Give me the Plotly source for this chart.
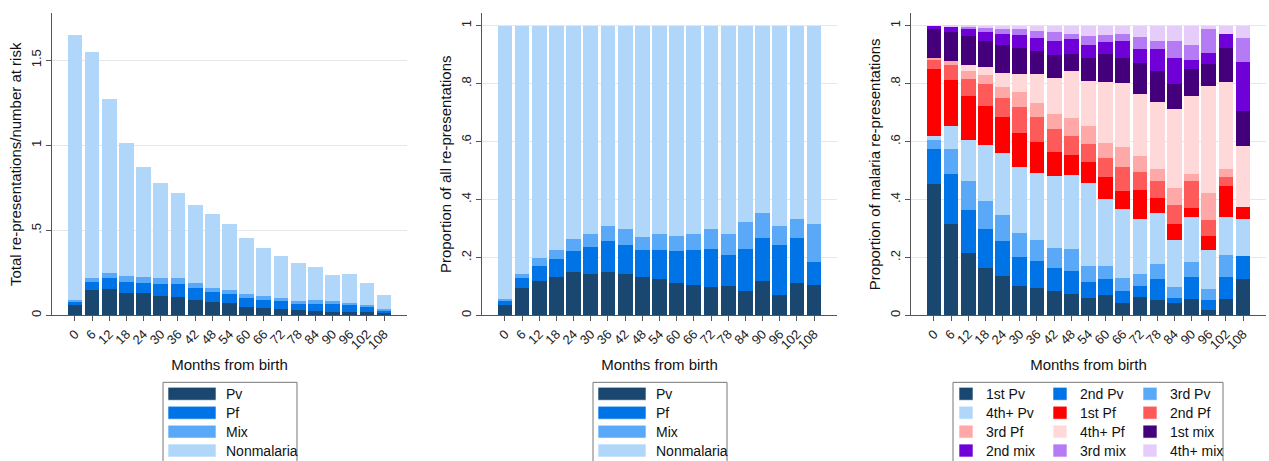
import plotly.graph_objects as go

W, H = 1269, 461

months = [0, 6, 12, 18, 24, 30, 36, 42, 48, 54, 60, 66, 72, 78, 84, 90, 96, 102, 108]
month_labels = [str(m) for m in months]

# Panel 1: total re-presentations / number at risk
p1_pv = [.058, .146, .152, .134, .129, .111, .107, .092, .076, .070, .049, .041, .035, .029, .027, .021, .018, .019, .014]
p1_pf = [.024, .051, .066, .063, .062, .072, .078, .066, .060, .053, .050, .047, .047, .035, .037, .043, .044, .032, .013]
p1_mix = [.010, .025, .032, .033, .037, .035, .035, .033, .024, .027, .024, .023, .021, .022, .028, .022, .012, .011, .012]
p1_non = [1.557, 1.324, 1.021, .784, .643, .562, .497, .458, .438, .388, .331, .285, .246, .220, .191, .154, .168, .131, .082]

# Panel 2: proportion of all re-presentations
p2_pv = [.034, .095, .120, .134, .148, .143, .151, .142, .131, .127, .110, .103, .099, .100, .084, .120, .069, .113, .104]
p2_pf = [.016, .033, .052, .061, .073, .093, .107, .102, .096, .100, .112, .124, .130, .107, .146, .148, .175, .155, .079]
p2_mix = [.005, .016, .026, .032, .044, .046, .050, .055, .043, .054, .053, .055, .070, .075, .093, .085, .063, .065, .132]
p2_non = [.945, .856, .802, .773, .735, .718, .692, .701, .730, .719, .725, .718, .701, .718, .677, .647, .693, .667, .685]

# Panel 3: proportion of malaria re-presentations
p3_pv1 = [.455, .315, .215, .163, .135, .102, .094, .084, .072, .061, .070, .042, .065, .053, .041, .058, .017, .058, .124]
p3_pv2 = [.119, .173, .149, .136, .122, .098, .093, .081, .080, .055, .056, .043, .036, .073, .019, .073, .037, .075, .082]
p3_pv3 = [.032, .088, .100, .097, .090, .084, .072, .068, .078, .054, .046, .044, .043, .050, .037, .053, .038, .074, .000]
p3_pv4 = [.013, .079, .142, .192, .212, .227, .231, .247, .255, .287, .230, .239, .187, .176, .163, .157, .134, .134, .126]
p3_pf1 = [.231, .157, .152, .134, .127, .117, .110, .085, .068, .071, .075, .062, .101, .052, .056, .030, .047, .106, .041]
p3_pf2 = [.032, .051, .059, .075, .064, .090, .085, .079, .066, .065, .065, .082, .064, .060, .065, .092, .056, .031, .000]
p3_pf3 = [.007, .016, .028, .033, .038, .054, .048, .052, .061, .060, .053, .068, .054, .042, .058, .024, .095, .028, .000]
p3_pf4 = [.000, .000, .021, .028, .050, .062, .101, .125, .162, .157, .210, .223, .214, .229, .275, .270, .368, .299, .210]
p3_mx1 = [.100, .098, .100, .089, .094, .088, .077, .078, .061, .079, .097, .085, .107, .109, .083, .092, .075, .119, .124]
p3_mx2 = [.011, .020, .025, .032, .041, .047, .045, .047, .050, .045, .042, .058, .048, .074, .090, .032, .038, .046, .167]
p3_mx3 = [.000, .000, .006, .013, .016, .018, .026, .031, .020, .030, .025, .027, .043, .030, .061, .051, .085, .000, .084]
p3_mx4 = [.000, .003, .003, .008, .011, .013, .018, .023, .027, .036, .031, .027, .038, .052, .052, .068, .010, .030, .042]

names4 = ["Pv", "Pf", "Mix", "Nonmalaria"]
colors4 = ["#1a476f", "#0073e6", "#59a9f8", "#b0d6fa"]

names12 = ["1st Pv", "2nd Pv", "3rd Pv", "4th+ Pv",
           "1st Pf", "2nd Pf", "3rd Pf", "4th+ Pf",
           "1st mix", "2nd mix", "3rd mix", "4th+ mix"]
colors12 = ["#1a476f", "#0073e6", "#59a9f8", "#b0d6fa",
            "#ff0000", "#ff5a5a", "#ffa8a8", "#ffd9d9",
            "#44007a", "#6f00d8", "#b57bf5", "#e5ccfb"]

p1_series = [p1_pv, p1_pf, p1_mix, p1_non]
p2_series = [p2_pv, p2_pf, p2_mix, p2_non]
p3_series = [p3_pv1, p3_pv2, p3_pv3, p3_pv4, p3_pf1, p3_pf2, p3_pf3, p3_pf4,
             p3_mx1, p3_mx2, p3_mx3, p3_mx4]

FONT = "Arial, Liberation Sans, sans-serif"
BARW = 5.15

fig = go.Figure()

for nm, col, vals in zip(names4, colors4, p1_series):
    fig.add_trace(go.Bar(x=months, y=vals, name=nm, marker_color=col, marker_line_width=0,
                         width=BARW, xaxis="x", yaxis="y", showlegend=False))
for nm, col, vals in zip(names4, colors4, p2_series):
    fig.add_trace(go.Bar(x=months, y=vals, name=nm, marker_color=col, marker_line_width=0,
                         width=BARW, xaxis="x2", yaxis="y2", showlegend=False))
for nm, col, vals in zip(names12, colors12, p3_series):
    fig.add_trace(go.Bar(x=months, y=vals, name=nm, marker_color=col, marker_line_width=0,
                         width=BARW, xaxis="x3", yaxis="y3", showlegend=False))

def px(x):
    return x / W

def py(y):
    return 1 - y / H

ydom = [py(316.7), py(13.3)]
xdoms = [[px(52), px(407)], [px(482), px(837)], [px(911), px(1266)]]

axis_common = dict(showline=True, linecolor="#555555", linewidth=1, ticks="outside",
                   ticklen=5, tickcolor="#555555", tickfont=dict(family=FONT, size=13, color="#222"),
                   zeroline=False)

xaxis_cfg = dict(axis_common, range=[-8, 116], tickvals=months, ticktext=month_labels,
                 tickangle=-45, showgrid=False,
                 title=dict(text="Months from birth", font=dict(family=FONT, size=15, color="#111"), standoff=8))

y1_vals = [0, 0.5, 1, 1.5]
y1_text = ["0", ".5", "1", "1.5"]
y2_vals = [0, 0.2, 0.4, 0.6, 0.8, 1]
y2_text = ["0", ".2", ".4", ".6", ".8", "1"]

def ycfg(rng, tv, tt, title):
    return dict(axis_common, range=rng, tickvals=tv, ticktext=tt, tickangle=-90,
                showgrid=True, gridcolor="#e6e6e6", gridwidth=1,
                title=dict(text=title, font=dict(family=FONT, size=15, color="#111"), standoff=3))

fig.update_layout(
    width=W, height=H, barmode="stack",
    margin=dict(l=0, r=0, t=0, b=0),
    plot_bgcolor="white", paper_bgcolor="white",
    xaxis=dict(xaxis_cfg, domain=xdoms[0], anchor="y"),
    xaxis2=dict(xaxis_cfg, domain=xdoms[1], anchor="y2"),
    xaxis3=dict(xaxis_cfg, domain=xdoms[2], anchor="y3"),
    yaxis=dict(ycfg([0, 1.776], y1_vals, y1_text, "Total re-presentations/number at risk"), domain=ydom, anchor="x"),
    yaxis2=dict(ycfg([0, 1.043], y2_vals, y2_text, "Proportion of all re-presentations"), domain=ydom, anchor="x2"),
    yaxis3=dict(ycfg([0, 1.043], y2_vals, y2_text, "Proportion of malaria re-presentations"), domain=ydom, anchor="x3"),
    showlegend=False,
)

shapes = []
annots = []

def legend_box(x0, x1, y0, y1):
    shapes.append(dict(type="rect", xref="paper", yref="paper", x0=px(x0), x1=px(x1),
                       y0=py(y1), y1=py(y0), line=dict(color="#777777", width=1),
                       fillcolor="rgba(0,0,0,0)", layer="above"))

def swatch(x0, x1, yc, h, col):
    shapes.append(dict(type="rect", xref="paper", yref="paper", x0=px(x0), x1=px(x1),
                       y0=py(yc + h / 2), y1=py(yc - h / 2), line=dict(color="rgba(255,255,255,0.6)", width=1),
                       fillcolor=col, layer="above"))

def label(x, yc, txt):
    annots.append(dict(xref="paper", yref="paper", x=px(x), y=py(yc), text=txt, showarrow=False,
                       xanchor="left", yanchor="middle", font=dict(family=FONT, size=14, color="#111")))

rows_y = [395.5, 414.5, 433.5, 452.5]

# Panels 1 and 2 legends (single column, wide swatches)
for ax_left in (52, 482):
    bx0 = ax_left + 111
    legend_box(bx0, bx0 + 134, 384, 475)
    for nm, col, yc in zip(names4, colors4, rows_y):
        swatch(bx0 + 5, bx0 + 53, yc, 13, col)
        label(bx0 + 61, yc, nm)

# Panel 3 legend (three columns)
legend_box(953, 1223, 384, 475)
col_sw = [959, 1053, 1143]
col_tx = [984, 1078, 1168]
for k, (nm, col) in enumerate(zip(names12, colors12)):
    r, c = divmod(k, 3)
    swatch(col_sw[c], col_sw[c] + 14, rows_y[r], 13, col)
    label(col_tx[c], rows_y[r], nm)

fig.update_layout(shapes=shapes, annotations=annots)

fig.write_html("out.html", config={"displayModeBar": False},
               post_script="document.body.style.margin='0';document.body.style.padding='0';"
                           "document.body.style.overflow='hidden';")
